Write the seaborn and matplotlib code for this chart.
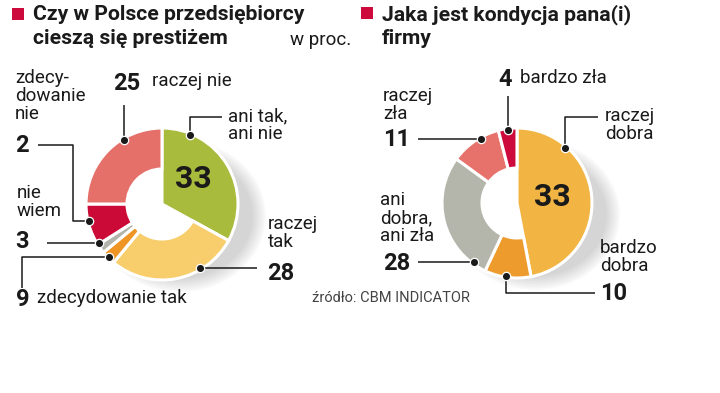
import numpy as np
import matplotlib
matplotlib.use('Agg')
import matplotlib.pyplot as plt
from matplotlib.patches import Circle, Ellipse, Rectangle
import seaborn as sns

# left donut: Czy w Polsce przedsiębiorcy cieszą się prestiżem
left_cats = ['ani tak,\nani nie', 'raczej\ntak', 'zdecydowanie tak', 'nie\nwiem',
             'zdecy-\ndowanie\nnie', 'raczej nie']
left_values = [33, 28, 3, 2, 9, 25]          # wedge sizes as drawn
left_numbers = ['33', '28', '9', '3', '2', '25']  # numbers as printed
left_colors = ['#a9bb3d', '#f8ce6c', '#ee9526', '#b3b5ad', '#cc0a37', '#e5706a']

# right donut: Jaka jest kondycja pana(i) firmy
right_cats = ['raczej\ndobra', 'bardzo\ndobra', 'ani\ndobra,\nani zła', 'raczej\nzła', 'bardzo zła']
right_values = [47, 10, 28, 11, 4]
right_numbers = ['33', '10', '28', '11', '4']
right_colors = ['#f2b543', '#ee9b2e', '#b5b6ab', '#e6726b', '#cc0a3c']

W, H = 720, 393
INK = '#1a1a1a'

sns.set_theme(style='white')
plt.rcParams['font.family'] = ['Roboto', 'DejaVu Sans']

fig = plt.figure(figsize=(7.2, 3.93), dpi=100)
ax = fig.add_axes([0, 0, 1, 1])


def txt(x, y, s, size=13.5, weight='normal', ha='left', va='center', color=INK):
    ax.text(x, H - y, s, fontsize=size, fontweight=weight, ha=ha, va=va,
            color=color, linespacing=1.02)


def draw_donut(values, colors, cx, cy, r, hole):
    # soft shadow to the lower right
    for i in range(10):
        ax.add_patch(Ellipse((cx + 18, H - cy - 12), 2 * r + 20 - 3 * i, 2 * r - 3 * i,
                             color='#777777', alpha=0.03, lw=0, zorder=0.5))
    ax.add_patch(Circle((cx, H - cy), hole, color='white', lw=0, zorder=0.8))
    wedges, _ = ax.pie(values, colors=colors, startangle=90, counterclock=False,
                       center=(cx, H - cy), radius=r,
                       wedgeprops=dict(width=r - hole, edgecolor='white', linewidth=2.2))
    # highlighted first wedge is a full slice
    wedges[0].set_width(None)
    return wedges


def leader(cx, cy, r, ang, moves, rf=0.98):
    a = np.radians(ang)
    x, y = cx + r * rf * np.sin(a), cy - r * rf * np.cos(a)
    xs, ys = [x], [y]
    for kind, v in moves:
        if kind == 'h':
            x = v
        else:
            y = v
        xs.append(x)
        ys.append(y)
    ax.plot(xs, [H - v for v in ys], color=INK, lw=1.1, zorder=3, solid_capstyle='butt')
    ax.plot(xs[0], H - ys[0], 'o', color=INK, ms=6, mec='white', mew=0.9, zorder=4)


# ---- left donut
lcx, lcy, lr = 162, 204, 76
draw_donut(left_values, left_colors, lcx, lcy, lr, 35)
left_layout = [
    # dot angle, leader moves, number pos, label pos
    (22, [('v', 117), ('h', 222)], None, (228, 125)),
    (149, [('h', 257)], (267, 273), (268, 233)),
    (225, [('h', 22), ('v', 288)], (16, 299), (37, 298)),
    (238, [('h', 47)], (15, 241), (17, 202)),
    (257, [('h', 73), ('v', 145), ('h', 38)], (15, 146), (15, 96)),
    (329, [('v', 105)], (113, 83), (152, 81)),
]
for cat, num, (ang, moves, npos, lpos) in zip(left_cats, left_numbers, left_layout):
    leader(lcx, lcy, lr, ang, moves)
    if npos is None:
        txt(193, 179, num, size=23, weight='bold', ha='center')
    else:
        txt(npos[0], npos[1], num, size=17, weight='bold')
    txt(lpos[0], lpos[1], cat)

# ---- right donut
rcx, rcy, rr = 517, 203, 75
draw_donut(right_values, right_colors, rcx, rcy, rr, 35)
right_layout = [
    (41, [('v', 117), ('h', 598)], None, (605, 125)),
    (189, [('v', 293), ('h', 595)], (600, 293), (600, 257)),
    (216, [('h', 418)], (383, 264), (380, 218)),
    (331, [('h', 418)], (383, 139), (383, 105)),
    (353, [('v', 96)], (498, 79), (520, 78)),
]
for cat, num, (ang, moves, npos, lpos) in zip(right_cats, right_numbers, right_layout):
    leader(rcx, rcy, rr, ang, moves)
    if npos is None:
        txt(552, 197, num, size=23, weight='bold', ha='center')
    else:
        txt(npos[0], npos[1], num, size=17, weight='bold')
    txt(lpos[0], lpos[1], cat)

# ---- titles
ax.add_patch(Rectangle((12, H - 20), 12, 12, color='#cc0a3c', lw=0))
txt(33, 15, 'Czy w Polsce przedsiębiorcy', size=15.2, weight='bold')
txt(33, 38, 'cieszą się prestiżem', size=15.2, weight='bold')
txt(290, 40, 'w proc.', size=13.5)
ax.add_patch(Rectangle((361, H - 19), 12, 12, color='#cc0a3c', lw=0))
txt(382, 15, 'Jaka jest kondycja pana(i)', size=15.2, weight='bold')
txt(382, 38, 'firmy', size=15.2, weight='bold')
txt(312, 298, 'źródło: CBM INDICATOR', size=10.5, color='#444444')

ax.set_xlim(0, W)
ax.set_ylim(0, H)
ax.set_aspect('equal')
ax.axis('off')

fig.savefig('out.png', dpi=100)
